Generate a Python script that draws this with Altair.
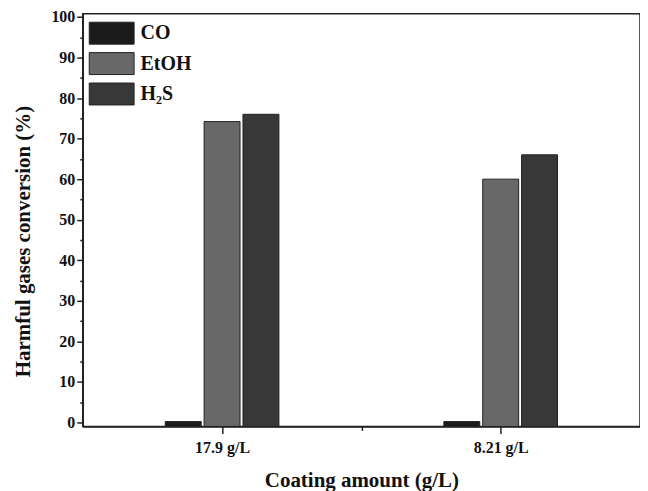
import altair as alt
import pandas as pd

categories = ["17.9 g/L", "8.21 g/L"]
series = ["CO", "EtOH", "H₂S"]
co = [0.2, 0.2]
etoh = [74.2, 60.0]
h2s = [76.0, 66.0]
colors = ["#1b1b1b", "#686868", "#383838"]

# bar layout within a category slot of width 1 (data units)
BAR_W = 0.129
BAR_STEP = 0.1395

rows = []
for i, c in enumerate(categories):
    for j, (s, vals) in enumerate(zip(series, [co, etoh, h2s])):
        center = i + (j - 1) * BAR_STEP
        rows.append({"cat": c, "gas": s, "val": vals[i],
                     "x0": center - BAR_W / 2, "x1": center + BAR_W / 2})
df = pd.DataFrame(rows)

FONT = "Liberation Serif"
YMIN, YMAX = -1, 100.8

label_expr = ("datum.value == 0 ? '%s' : (datum.value == 1 ? '%s' : '')"
              % (categories[0], categories[1]))
x_scale = alt.Scale(domain=[-0.5, 1.5], nice=False, zero=False)
y_scale = alt.Scale(domain=[YMIN, YMAX], nice=False, zero=False)

chart = alt.Chart(df).mark_bar(stroke="#222222", strokeWidth=1).encode(
    x=alt.X("x0:Q", scale=x_scale,
            axis=alt.Axis(title="Coating amount (g/L)", orient="bottom", values=[0, 0.5, 1],
                          labelExpr=label_expr, labelAngle=0,
                          tickSize={"condition": {"test": "datum.value == 0.5", "value": 4},
                                    "value": 7},
                          tickWidth=1.5, domainWidth=1.5, domainColor="#222222",
                          tickColor="#222222", labelPadding=6, titlePadding=14)),
    x2="x1:Q",
    y=alt.Y("val:Q", scale=y_scale,
            axis=alt.Axis(title="Harmful gases conversion (%)", orient="left",
                          values=list(range(0, 101, 5)),
                          labelExpr="datum.value % 10 === 0 ? datum.label : ''",
                          tickSize={"condition": {"test": "datum.value % 10 === 0", "value": 6},
                                    "value": 3},
                          tickWidth=1.5, domainWidth=1.5, domainColor="#222222",
                          tickColor="#222222", labelPadding=2,
                          titleX=-59, titleY=228, titleAlign="center",
                          titleBaseline="middle", titleAngle=270)),
    y2=alt.Y2(datum=YMIN),
    color=alt.Color("gas:N", sort=series,
                    scale=alt.Scale(domain=series, range=colors),
                    legend=alt.Legend(
                        title=None, orient="none", legendX=17.5, legendY=8,
                        symbolType="M-2.045,-1L2.045,-1L2.045,1L-2.045,1Z",
                        symbolSize=484, symbolStrokeColor="#222222",
                        symbolStrokeWidth=1, symbolOpacity=1,
                        labelOffset=17.5, rowPadding=3.5,
                        labelFont=FONT, labelFontSize=20, labelFontWeight="bold",
                        labelColor="#111111")),
).properties(
    width=559, height=414,
    autosize=alt.AutoSizeParams(type="none"),
    padding={"left": 75, "top": 5, "right": 0, "bottom": 64},
).configure_view(
    stroke="#222222", strokeWidth=1.5
).configure_axis(
    labelFont=FONT, labelFontSize=16, labelFontWeight="bold", labelColor="#111111",
    titleFont=FONT, titleFontSize=21, titleFontWeight="bold", titleColor="#111111",
    grid=False,
)

chart.save("out.html", embed_options={"renderer": "svg", "actions": False})
